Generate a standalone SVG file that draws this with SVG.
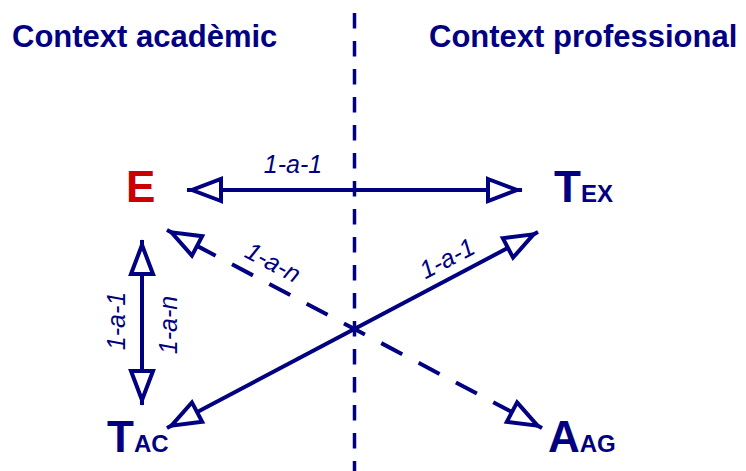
<svg xmlns="http://www.w3.org/2000/svg" width="746" height="471" viewBox="0 0 746 471">
  <style>
    .head { font-family: "Liberation Sans", Arial, sans-serif; font-weight: bold; font-size: 31px; fill: #000080; }
    .big { font-family: "Liberation Sans", Arial, sans-serif; font-weight: bold; font-size: 44px; fill: #000080; }
    .sub { font-size: 24px; }
    .lbl { font-family: "Liberation Sans", Arial, sans-serif; font-style: italic; font-size: 25px; fill: #000080; text-anchor: middle; }
    .conn { fill: none; stroke: #000080; stroke-width: 4; }
    .dash { stroke-dasharray: 23.7 18.5; stroke-dashoffset: 10.9; }
    .divider { fill: none; stroke: #000080; stroke-width: 3.5; stroke-dasharray: 15.5 12.5; }
  </style>
  <defs>
    <marker id="ah" viewBox="-40 -16 44 32" refX="0" refY="0" markerWidth="44" markerHeight="32" markerUnits="userSpaceOnUse" orient="auto-start-reverse">
      <path d="M-34,-11 L-5,0 L-34,11 Z" fill="#ffffff" stroke="#000080" stroke-width="4" stroke-linejoin="miter" stroke-dasharray="none"/>
    </marker>
  </defs>
  <rect width="746" height="471" fill="#ffffff"/>

  <g id="heading-academic">
    <text class="head" x="12" y="47">Context acadèmic</text>
  </g>
  <g id="heading-professional">
    <text class="head" x="429" y="47">Context professional</text>
  </g>

  <g id="connectors">
    <path class="conn" d="M187,190 L522,190" marker-start="url(#ah)" marker-end="url(#ah)"/>
    <path class="conn" d="M142,240 L142,405" marker-start="url(#ah)" marker-end="url(#ah)"/>
    <path class="conn" d="M167,428 L538,232" marker-start="url(#ah)" marker-end="url(#ah)"/>
    <path class="conn dash" d="M167,230 L542,428" marker-start="url(#ah)" marker-end="url(#ah)"/>
    <text class="lbl" x="293" y="173">1-a-1</text>
    <text class="lbl" transform="translate(125,321) rotate(-90)">1-a-1</text>
    <text class="lbl" transform="translate(177,325) rotate(-90)">1-a-n</text>
    <text class="lbl" transform="translate(269,270) rotate(27.8)">1-a-n</text>
    <text class="lbl" transform="translate(451,266) rotate(-27.8)">1-a-1</text>
  </g>

  <g id="divider">
    <path class="divider" d="M354.5,13 L354.5,471"/>
  </g>

  <g id="node-E">
    <text class="big" x="126" y="202" fill="#cc0000" style="fill:#cc0000">E</text>
  </g>
  <g id="node-TEX">
    <text class="big" x="554" y="202">T<tspan class="sub">EX</tspan></text>
  </g>
  <g id="node-TAC">
    <text class="big" x="107" y="452">T<tspan class="sub">AC</tspan></text>
  </g>
  <g id="node-AAG">
    <text class="big" x="548" y="452">A<tspan class="sub">AG</tspan></text>
  </g>
</svg>
